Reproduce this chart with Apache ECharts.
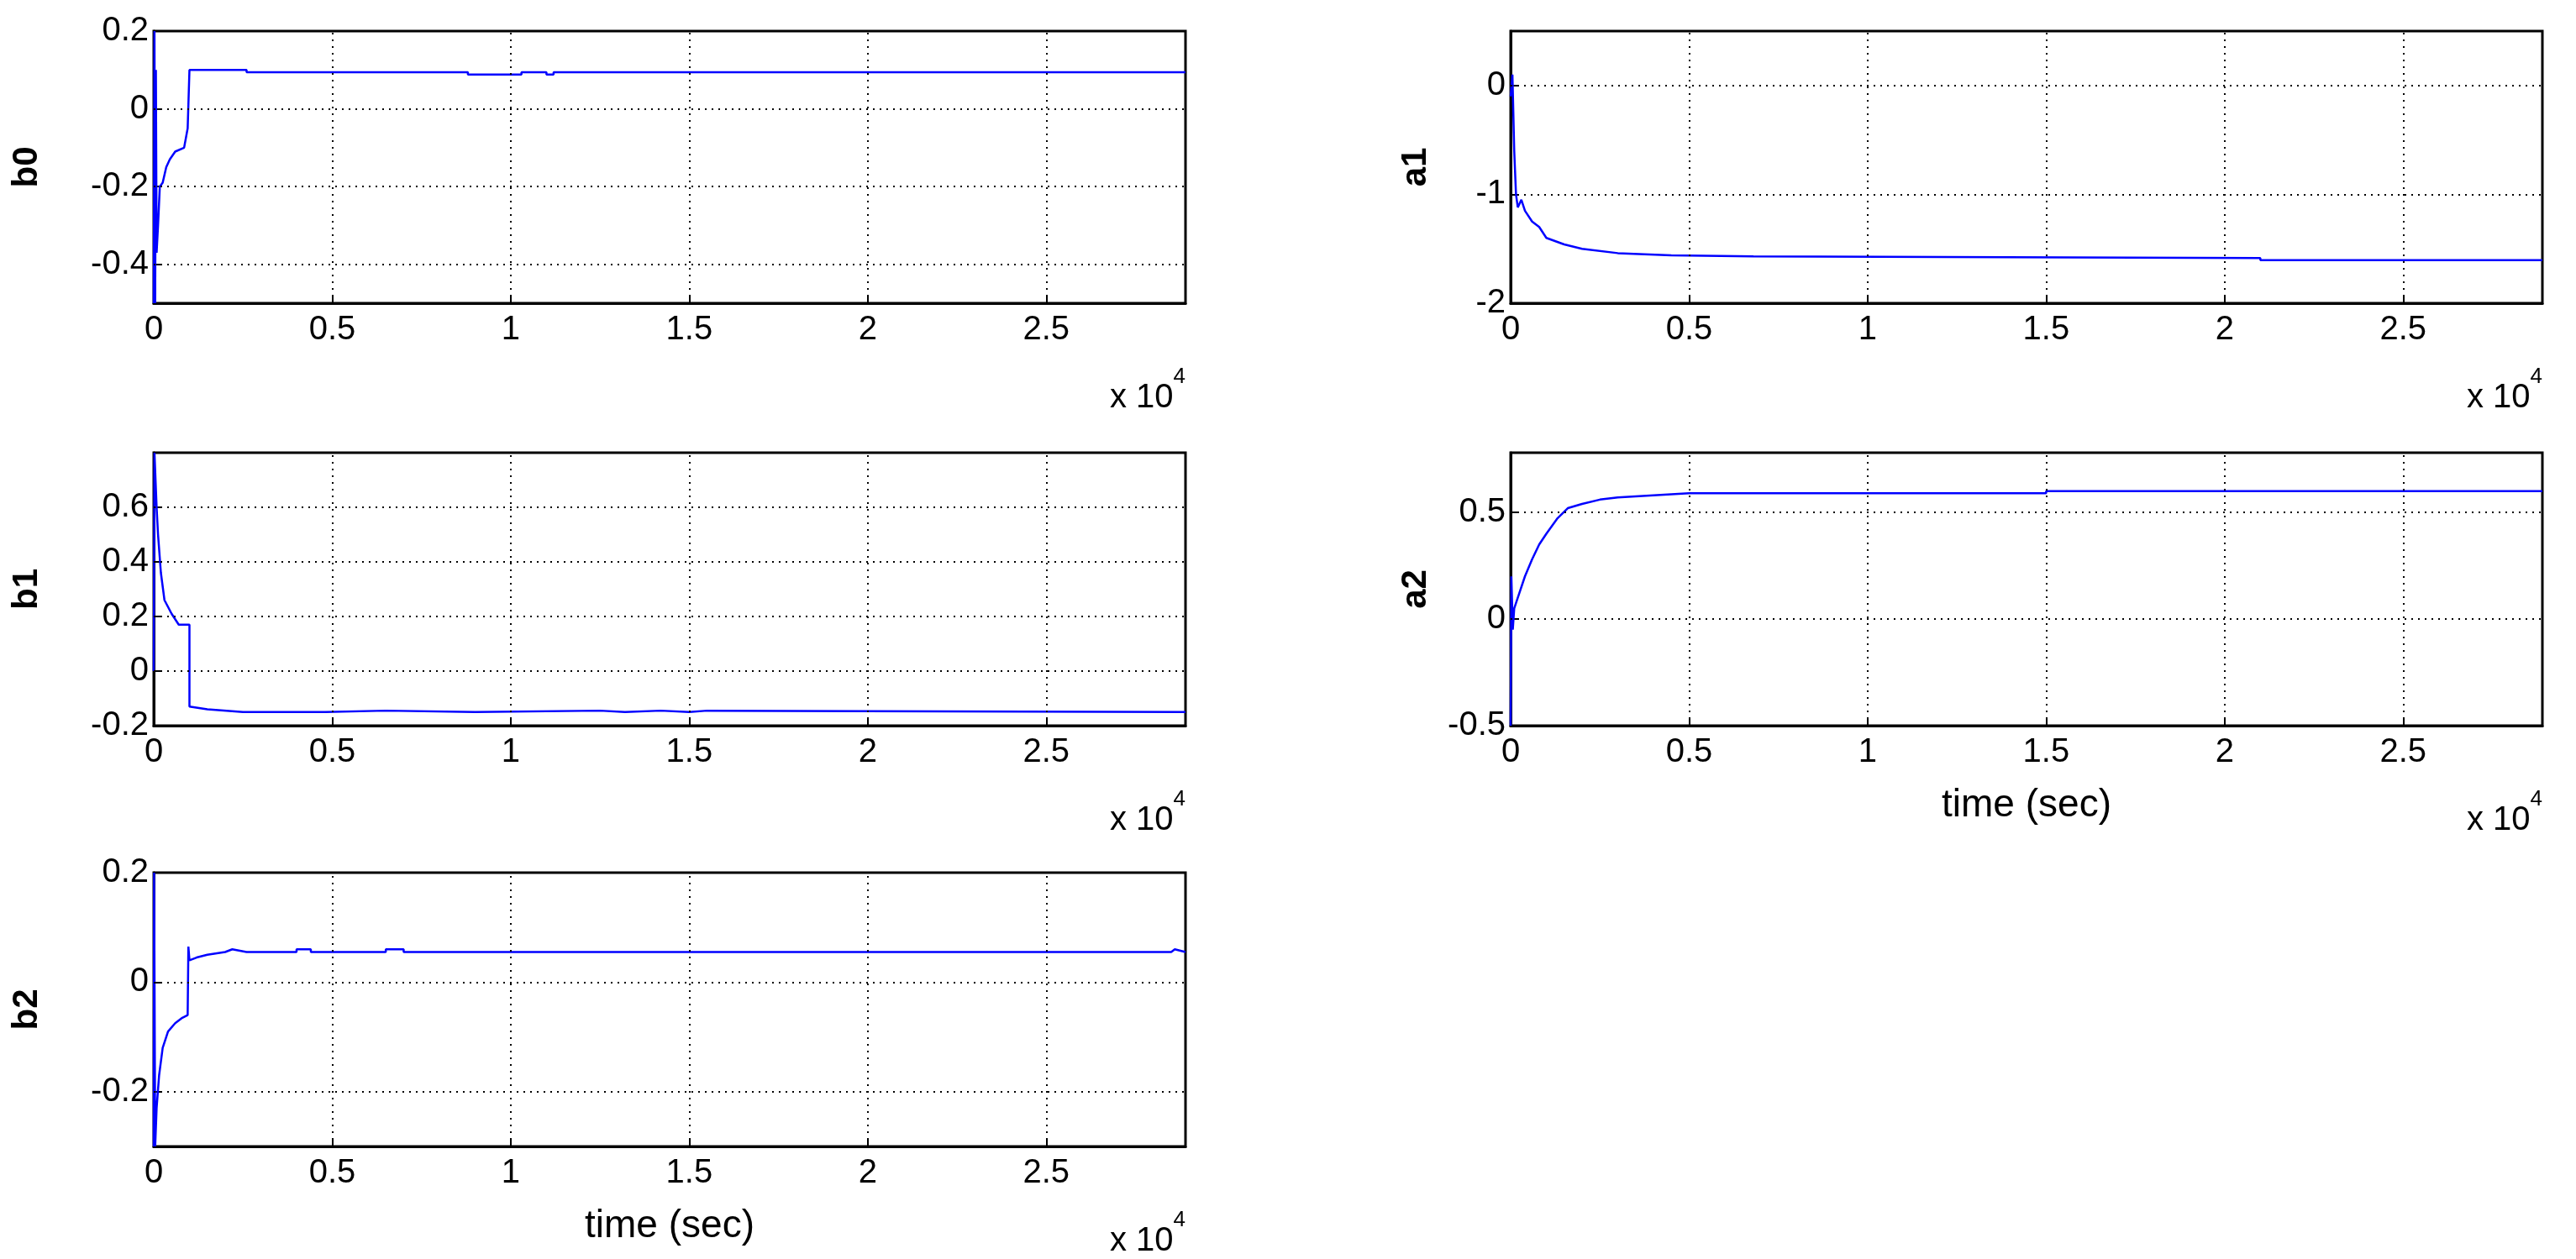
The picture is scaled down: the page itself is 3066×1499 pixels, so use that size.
<!DOCTYPE html>
<html>
<head>
<meta charset="utf-8">
<script src="https://cdn.jsdelivr.net/npm/echarts@6/dist/echarts.min.js"></script>
<style>
  html, body { margin: 0; padding: 0; background: #fff; }
  #main { width: 3066px; height: 1499px; }
</style>
</head>
<body>
<div id="main"></div>
<script>
// estimated parameter traces, [time (s), value]
var b0Data = [[0, -0.5], [20, 0.2], [40, -0.5], [60, 0.1], [80, -0.37], [120, -0.3], [170, -0.2],
  [250, -0.19], [350, -0.15], [450, -0.13], [600, -0.11], [850, -0.1], [950, -0.05], [1000, 0.1],
  [2600, 0.1], [2600, 0.094], [8800, 0.094], [8800, 0.088], [10300, 0.088], [10300, 0.094],
  [11000, 0.094], [11000, 0.088], [11200, 0.088], [11200, 0.094], [28900, 0.094]];
var b1Data = [[0, 0], [20, 0.8], [50, 0.8], [80, 0.6], [120, 0.5], [200, 0.36], [300, 0.26],
  [500, 0.21], [700, 0.17], [1000, 0.17], [1000, -0.13], [1500, -0.14], [2500, -0.15],
  [4800, -0.15], [4800, -0.145], [6500, -0.145], [6500, -0.15], [9000, -0.15], [9000, -0.145],
  [12500, -0.145], [12500, -0.15], [13200, -0.15], [13200, -0.145], [14200, -0.145], [14200, -0.15],
  [15000, -0.15], [15000, -0.145], [15500, -0.145], [15500, -0.15], [28900, -0.15]];
var b2Data = [[0, -0.3], [10, 0.2], [30, 0.2], [40, -0.3], [80, -0.23], [150, -0.17], [250, -0.12],
  [400, -0.09], [600, -0.075], [800, -0.065], [950, -0.06], [970, 0.065], [1000, 0.04],
  [1200, 0.045], [1500, 0.05], [2000, 0.055], [2200, 0.06], [2600, 0.055], [4000, 0.055],
  [4000, 0.06], [4400, 0.06], [4400, 0.055], [6500, 0.055], [6500, 0.06], [7000, 0.06],
  [7000, 0.055], [28500, 0.055], [28600, 0.06], [28900, 0.055]];
var a1Data = [[0, -0.1], [50, 0.1], [100, -0.6], [150, -1.0], [200, -1.12], [300, -1.05],
  [400, -1.15], [600, -1.25], [800, -1.3], [1000, -1.4], [1500, -1.46], [2000, -1.5],
  [3000, -1.54], [4500, -1.56], [6800, -1.57], [6800, -1.585], [21000, -1.585], [21000, -1.605],
  [28900, -1.605]];
var a2Data = [[0, -0.5], [20, 0.2], [60, -0.05], [100, 0.05], [200, 0.1], [400, 0.2], [600, 0.28],
  [800, 0.35], [1000, 0.4], [1300, 0.47], [1600, 0.52], [2000, 0.54], [2500, 0.56], [3000, 0.57],
  [4000, 0.58], [5000, 0.59], [15000, 0.59], [15000, 0.6], [28900, 0.6]];

var panelNames = ['b0', 'b1', 'b2', 'a1', 'a2'];
var panelData = [b0Data, b1Data, b2Data, a1Data, a2Data];
var yMin = [-0.5, -0.2, -0.3, -2, -0.5];
var yMax = [0.2, 0.8, 0.2, 0.5, 0.78];
var yTicks = [[-0.4, -0.2, 0, 0.2], [-0.2, 0, 0.2, 0.4, 0.6], [-0.2, 0, 0.2], [-2, -1, 0], [-0.5, 0, 0.5]];
var xTicks = [0, 5000, 10000, 15000, 20000, 25000];
var xMax = 28900;

var boxes = [
  { left: 183, top: 37, width: 1228, height: 324 },
  { left: 183, top: 539, width: 1228, height: 325 },
  { left: 183, top: 1039, width: 1228, height: 326 },
  { left: 1798, top: 37, width: 1228, height: 324 },
  { left: 1798, top: 539, width: 1228, height: 325 }
];
var nameGaps = [130, 130, 130, 92, 92];
var hasTimeLabel = [false, false, true, false, true];
var expY = [466, 969, 1470, 466, 969];

var narrow = '"Liberation Sans Narrow", "Arial Narrow", "Liberation Sans", sans-serif';
var dotted = { color: '#000', type: [2, 6], width: 2 };

var grids = [], xAxes = [], yAxes = [], series = [], graphics = [];
panelNames.forEach(function (n, i) {
  var b = boxes[i];
  grids.push({ left: b.left, top: b.top, width: b.width, height: b.height,
    show: true, borderColor: '#000', borderWidth: 3, backgroundColor: '#fff' });
  xAxes.push({
    type: 'value', gridIndex: i, min: 0, max: xMax,
    axisLine: { show: true, onZero: false, lineStyle: { color: '#000', width: 3 } },
    axisTick: { show: true, inside: true, length: 8, customValues: xTicks, lineStyle: { color: '#000', width: 2 } },
    axisLabel: { customValues: xTicks, color: '#000', fontSize: 40, fontFamily: narrow, margin: 12,
      formatter: function (v) { return String(v / 10000); } },
    splitLine: { show: false },
    name: hasTimeLabel[i] ? 'time (sec)' : '',
    nameLocation: 'middle', nameGap: 72,
    nameTextStyle: { color: '#000', fontSize: 46, fontFamily: narrow }
  });
  yAxes.push({
    type: 'value', gridIndex: i, min: yMin[i], max: yMax[i],
    axisLine: { show: true, onZero: false, lineStyle: { color: '#000', width: 3 } },
    axisTick: { show: true, inside: true, length: 8, customValues: yTicks[i], lineStyle: { color: '#000', width: 2 } },
    axisLabel: { customValues: yTicks[i], color: '#000', fontSize: 40, fontFamily: narrow, margin: 6 },
    splitLine: { show: false },
    name: n, nameLocation: 'middle', nameRotate: 90, nameGap: nameGaps[i],
    nameTextStyle: { color: '#000', fontSize: 42, fontWeight: 'bold', fontFamily: 'Liberation Sans, Arial, sans-serif' }
  });
  var gridLines = [];
  xTicks.forEach(function (t) { if (t > 0) gridLines.push({ xAxis: t }); });
  yTicks[i].forEach(function (t) { if (t > yMin[i] && t < yMax[i]) gridLines.push({ yAxis: t }); });
  series.push({
    type: 'line', xAxisIndex: i, yAxisIndex: i, data: panelData[i],
    showSymbol: false, symbol: 'none', animation: false,
    lineStyle: { color: '#0000ff', width: 2.5 },
    markLine: { silent: true, symbol: 'none', label: { show: false }, lineStyle: dotted,
      animation: false, data: gridLines }
  });
  graphics.push({
    type: 'text', right: 3066 - (b.left + b.width), top: expY[i] - 30,
    style: { text: '{a|x 10}{s|4}', rich: {
      a: { fontSize: 40, fontFamily: narrow, fill: '#000', padding: [18, 0, 0, 0] },
      s: { fontSize: 26, fontFamily: narrow, fill: '#000', verticalAlign: 'top', padding: [0, 0, 24, 0] } } }
  });
});

var myChart = echarts.init(document.getElementById('main'));
myChart.setOption({
  backgroundColor: '#ffffff',
  animation: false,
  grid: grids, xAxis: xAxes, yAxis: yAxes, series: series, graphic: graphics
});
</script>
</body>
</html>
